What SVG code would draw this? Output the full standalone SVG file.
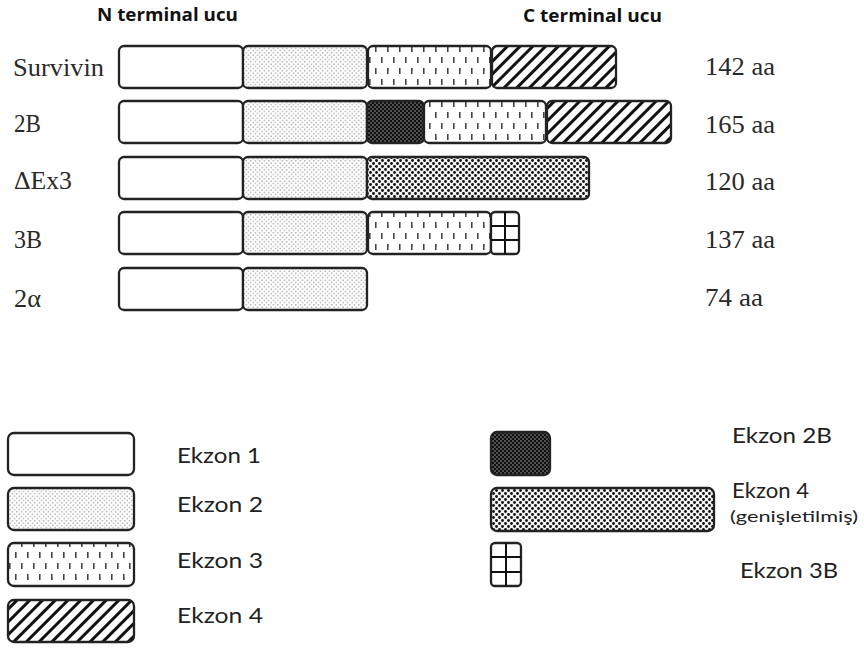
<svg xmlns="http://www.w3.org/2000/svg" width="864" height="648" viewBox="0 0 864 648">
<defs>
<pattern id="p2" width="4.5" height="4.5" patternUnits="userSpaceOnUse">
<rect width="4.5" height="4.5" fill="#fff"/>
<circle cx="1.1" cy="1.1" r="0.7" fill="#888"/>
<circle cx="3.35" cy="3.35" r="0.7" fill="#888"/>
</pattern>
<pattern id="p3" width="12" height="22" patternUnits="userSpaceOnUse">
<rect width="12" height="22" fill="#fff"/>
<rect x="3" y="2" width="1.6" height="6" fill="#444"/>
<rect x="9" y="13" width="1.6" height="6" fill="#444"/>
</pattern>
<pattern id="p4" width="9" height="9" patternUnits="userSpaceOnUse" patternTransform="rotate(45)">
<rect width="9" height="9" fill="#fff"/>
<line x1="4.5" y1="0" x2="4.5" y2="9" stroke="#111" stroke-width="3"/>
</pattern>
<pattern id="p2b" width="4" height="4" patternUnits="userSpaceOnUse">
<rect width="4" height="4" fill="#111"/>
<circle cx="1" cy="1" r="0.7" fill="#bbb"/>
<circle cx="3" cy="3" r="0.7" fill="#bbb"/>
</pattern>
<pattern id="pext" width="6" height="6" patternUnits="userSpaceOnUse">
<rect width="6" height="6" fill="#f4f4f4"/>
<circle cx="1.5" cy="1.5" r="1.4" fill="#111"/>
<circle cx="4.5" cy="4.5" r="1.4" fill="#111"/>
</pattern>
</defs>
<style>
.b{stroke:#222;stroke-width:2.3;}
.e1{fill:#fff}
.e2{fill:url(#p2)}
.e3{fill:url(#p3)}
.e4{fill:url(#p4)}
.e2b{fill:url(#p2b)}
.ex{fill:url(#pext)}
.lab{font-family:"Liberation Serif",serif;font-size:25px;fill:#2a2a2a}
.hd{font-family:"Open Sans","Liberation Sans",sans-serif;font-weight:bold;font-size:17px;fill:#111}
.lg{font-family:"Lato","Open Sans",sans-serif;font-size:21px;fill:#222}
.g{stroke:#111;stroke-width:2}
</style>
<rect width="864" height="648" fill="#fff"/>
<g id="headers">
<text class="hd" x="97" y="21" textLength="141" lengthAdjust="spacingAndGlyphs">N terminal ucu</text>
<text class="hd" x="523" y="22" textLength="139" lengthAdjust="spacingAndGlyphs">C terminal ucu</text>
</g>
<g id="row-survivin">
<text class="lab" x="13" y="76" textLength="91" lengthAdjust="spacingAndGlyphs">Survivin</text>
<rect class="b e1" x="119" y="46" width="124" height="42" rx="5"/>
<rect class="b e2" x="243" y="46" width="124" height="42" rx="5"/>
<rect class="b e3" x="368" y="46" width="123" height="42" rx="5"/>
<rect class="b e4" x="492" y="46" width="124" height="42" rx="5"/>
<text class="lab" x="705" y="75" textLength="70" lengthAdjust="spacingAndGlyphs">142 aa</text>
</g>
<g id="row-2B">
<text class="lab" x="14" y="132" textLength="27" lengthAdjust="spacingAndGlyphs">2B</text>
<rect class="b e1" x="119" y="101" width="124" height="42" rx="5"/>
<rect class="b e2" x="243" y="101" width="124" height="42" rx="5"/>
<rect class="b e2b" x="367" y="101" width="57" height="42" rx="5"/>
<rect class="b e3" x="424" y="101" width="122" height="42" rx="5"/>
<rect class="b e4" x="547" y="101" width="124" height="42" rx="5"/>
<text class="lab" x="705" y="133" textLength="70" lengthAdjust="spacingAndGlyphs">165 aa</text>
</g>
<g id="row-dEx3">
<text class="lab" x="14" y="189" textLength="58" lengthAdjust="spacingAndGlyphs">ΔEx3</text>
<rect class="b e1" x="119" y="157" width="124" height="42" rx="5"/>
<rect class="b e2" x="243" y="157" width="124" height="42" rx="5"/>
<rect class="b ex" x="367" y="157" width="222" height="42" rx="5"/>
<text class="lab" x="705" y="190" textLength="70" lengthAdjust="spacingAndGlyphs">120 aa</text>
</g>
<g id="row-3B">
<text class="lab" x="14" y="248" textLength="28" lengthAdjust="spacingAndGlyphs">3B</text>
<rect class="b e1" x="119" y="212" width="124" height="42" rx="5"/>
<rect class="b e2" x="243" y="212" width="124" height="42" rx="5"/>
<rect class="b e3" x="368" y="212" width="123" height="42" rx="5"/>
<rect class="b e1" x="491" y="212" width="28" height="42" rx="4"/>
<line class="g" x1="505" y1="212" x2="505" y2="254"/>
<line class="g" x1="491" y1="226" x2="519" y2="226"/>
<line class="g" x1="491" y1="240" x2="519" y2="240"/>
<text class="lab" x="705" y="248" textLength="70" lengthAdjust="spacingAndGlyphs">137 aa</text>
</g>
<g id="row-2a">
<text class="lab" x="14" y="307" textLength="27" lengthAdjust="spacingAndGlyphs">2α</text>
<rect class="b e1" x="119" y="268" width="124" height="42" rx="5"/>
<rect class="b e2" x="243" y="268" width="124" height="42" rx="5"/>
<text class="lab" x="705" y="306" textLength="58" lengthAdjust="spacingAndGlyphs">74 aa</text>
</g>
<g id="legend-ekzon1">
<rect class="b e1" x="8" y="433" width="126" height="42" rx="6"/>
<text class="lg" x="177" y="463" textLength="84" lengthAdjust="spacingAndGlyphs">Ekzon 1</text>
</g>
<g id="legend-ekzon2">
<rect class="b e2" x="8" y="488" width="126" height="42" rx="6"/>
<text class="lg" x="177" y="512" textLength="86" lengthAdjust="spacingAndGlyphs">Ekzon 2</text>
</g>
<g id="legend-ekzon3">
<rect class="b e3" x="8" y="543" width="126" height="43" rx="6"/>
<text class="lg" x="177" y="568" textLength="86" lengthAdjust="spacingAndGlyphs">Ekzon 3</text>
</g>
<g id="legend-ekzon4">
<rect class="b e4" x="8" y="600" width="126" height="42" rx="6"/>
<text class="lg" x="177" y="623" textLength="86" lengthAdjust="spacingAndGlyphs">Ekzon 4</text>
</g>
<g id="legend-ekzon2B">
<rect class="b e2b" x="491" y="432" width="59" height="43" rx="6"/>
<text class="lg" x="732" y="443" textLength="100" lengthAdjust="spacingAndGlyphs">Ekzon 2B</text>
</g>
<g id="legend-ekzon4ext">
<rect class="b ex" x="491" y="488" width="223" height="43" rx="6"/>
<text class="lg" x="732" y="498" textLength="77" lengthAdjust="spacingAndGlyphs">Ekzon 4</text>
<text class="lg" x="730" y="522" style="font-size:15px" textLength="128" lengthAdjust="spacingAndGlyphs">(genişletilmiş)</text>
</g>
<g id="legend-ekzon3B">
<rect class="b e1" x="491" y="543" width="30" height="43" rx="4"/>
<line class="g" x1="506" y1="543" x2="506" y2="586"/>
<line class="g" x1="491" y1="557" x2="521" y2="557"/>
<line class="g" x1="491" y1="572" x2="521" y2="572"/>
<text class="lg" x="740" y="578" textLength="98" lengthAdjust="spacingAndGlyphs">Ekzon 3B</text>
</g>
</svg>
